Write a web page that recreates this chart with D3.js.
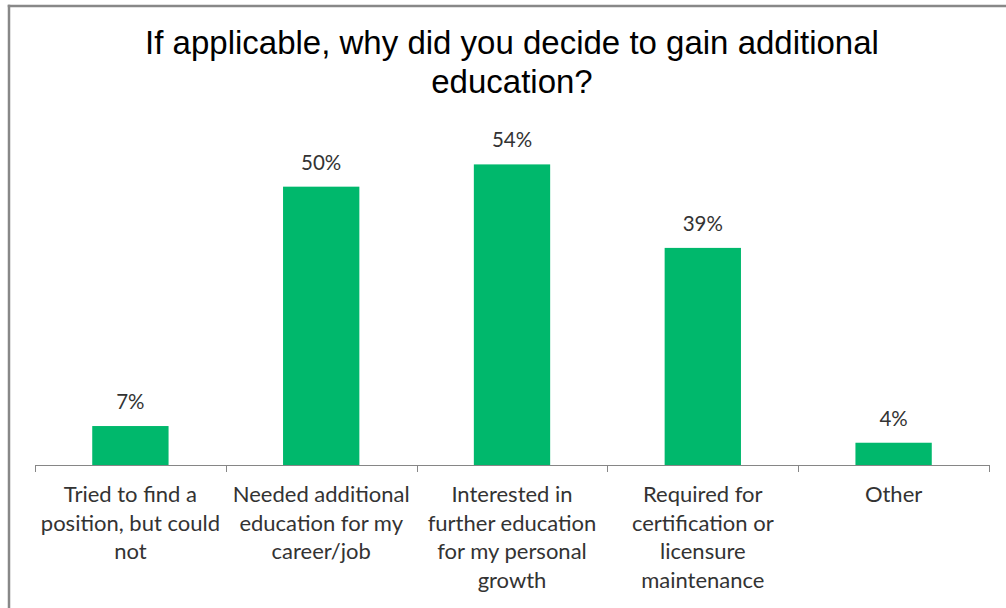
<!DOCTYPE html>
<html>
<head>
<meta charset="utf-8">
<script src="https://cdn.jsdelivr.net/npm/d3@7"></script>
<style>
  html, body { margin: 0; padding: 0; background: #fff; }
  svg { display: block; }
</style>
</head>
<body>
<svg id="chart" width="1006" height="608"></svg>
<script>
// Survey responses: reasons for gaining additional education
const categories = [
  "Tried to find a position, but could not",
  "Needed additional education for my career/job",
  "Interested in further education for my personal growth",
  "Required for certification or licensure maintenance",
  "Other"
];
const values = [7, 50, 54, 39, 4];
const tickLabels = [
  ["Tried to find a", "position, but could", "not"],
  ["Needed additional", "education for my", "career/job"],
  ["Interested in", "further education", "for my personal", "growth"],
  ["Required for", "certification or", "licensure", "maintenance"],
  ["Other"]
];
const titleLines = ["If applicable, why did you decide to gain additional", "education?"];

const svg = d3.select("#chart");
const W = 1006, H = 608;
const plot = { left: 35, right: 989, bottom: 465, top: 131 };

// Chart frame (only top and left edges fall inside the view)
svg.append("line")
  .attr("x1", 7.75).attr("x2", W).attr("y1", 6).attr("y2", 6)
  .attr("stroke", "#888").attr("stroke-width", 2.5);
svg.append("line")
  .attr("x1", 9).attr("x2", 9).attr("y1", 4.75).attr("y2", H)
  .attr("stroke", "#888").attr("stroke-width", 2.5);

// Title
svg.append("text")
  .attr("text-anchor", "middle")
  .attr("font-family", "'Liberation Sans', Arial, sans-serif")
  .attr("font-size", 33)
  .attr("fill", "#000")
  .selectAll("tspan")
  .data(titleLines)
  .join("tspan")
  .attr("x", 512)
  .attr("y", (d, i) => 54 + i * 39)
  .text(d => d);

const x = d3.scaleBand()
  .domain(categories)
  .range([plot.left, plot.right])
  .paddingInner(0.6)
  .paddingOuter(0.3);

const y = d3.scaleLinear()
  .domain([0, 60])
  .range([plot.bottom, plot.top]);

// Bars
svg.append("g")
  .selectAll("rect")
  .data(values)
  .join("rect")
  .attr("x", (d, i) => x(categories[i]))
  .attr("width", x.bandwidth())
  .attr("y", d => y(d))
  .attr("height", d => y(0) - y(d))
  .attr("fill", "#00b86c");

// Value labels
svg.append("g")
  .attr("font-family", "Lato, 'Open Sans', sans-serif")
  .attr("font-size", 20.5)
  .attr("fill", "#333")
  .attr("text-anchor", "middle")
  .selectAll("text")
  .data(values)
  .join("text")
  .attr("x", (d, i) => x(categories[i]) + x.bandwidth() / 2)
  .attr("y", d => y(d) - 17)
  .text(d => d + "%");

// Category axis: baseline with ticks on band boundaries
const step = x.step();
const boundaries = d3.range(categories.length + 1).map(i => plot.left + i * step);
const axis = svg.append("g");
axis.append("line")
  .attr("x1", plot.left).attr("x2", plot.right)
  .attr("y1", plot.bottom + 0.5).attr("y2", plot.bottom + 0.5)
  .attr("stroke", "#868686").attr("stroke-width", 1);
axis.selectAll("line.tick")
  .data(boundaries)
  .join("line")
  .attr("class", "tick")
  .attr("x1", d => Math.round(d) + 0.5).attr("x2", d => Math.round(d) + 0.5)
  .attr("y1", plot.bottom).attr("y2", plot.bottom + 7)
  .attr("stroke", "#868686").attr("stroke-width", 1);

// Category labels
axis.append("g")
  .attr("font-family", "Lato, 'Open Sans', sans-serif")
  .attr("font-size", 22)
  .attr("fill", "#333")
  .attr("text-anchor", "middle")
  .selectAll("text")
  .data(categories)
  .join("text")
  .each(function(c, i) {
    const cx = x(c) + x.bandwidth() / 2;
    d3.select(this).selectAll("tspan")
      .data(tickLabels[i])
      .join("tspan")
      .attr("x", cx)
      .attr("y", (d, j) => plot.bottom + 37 + j * 28.7)
      .text(d => d);
  });
</script>
</body>
</html>
